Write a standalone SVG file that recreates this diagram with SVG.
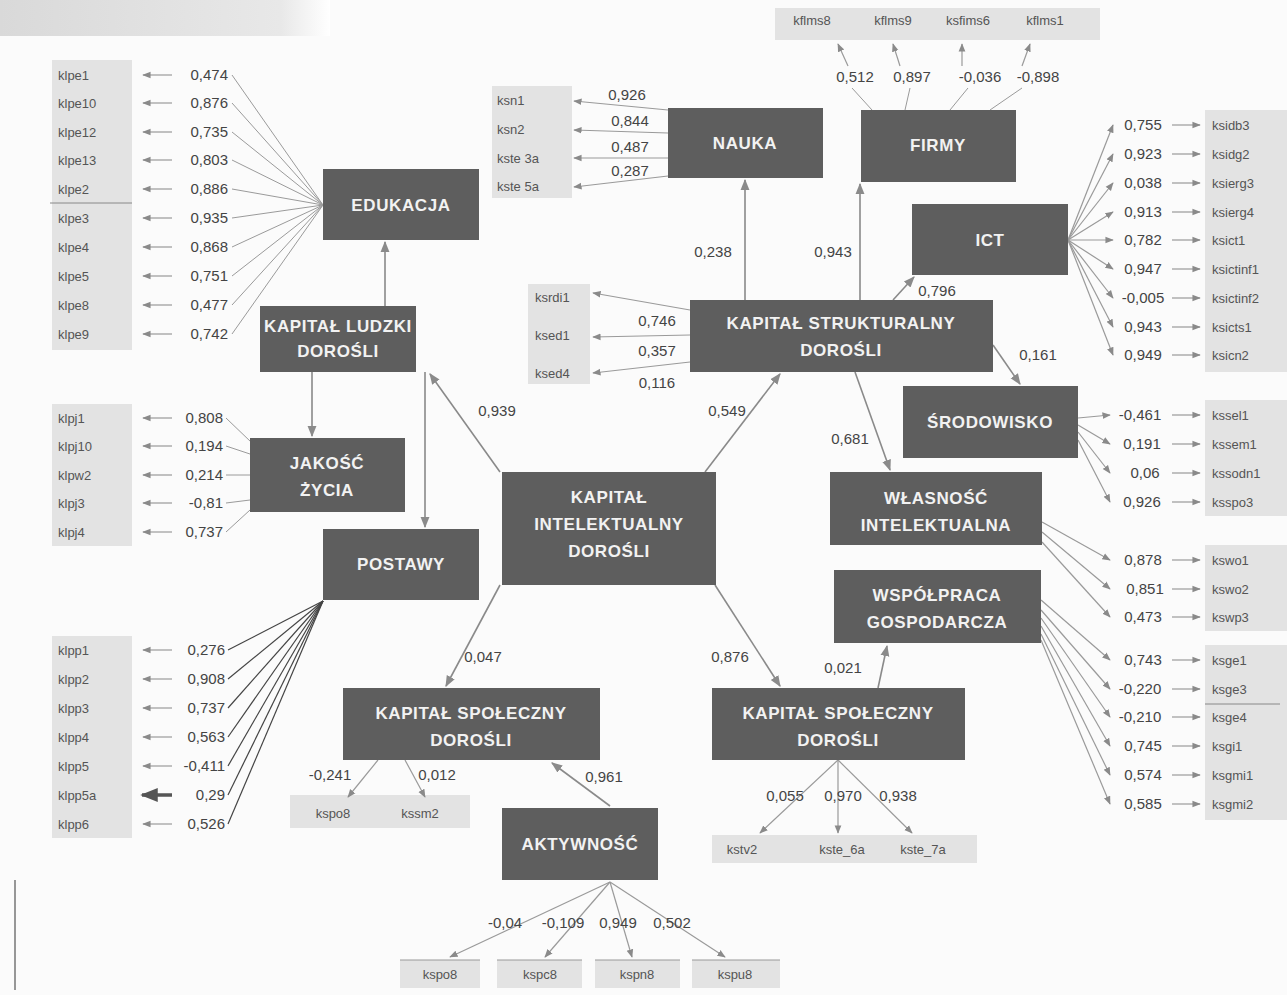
<svg xmlns="http://www.w3.org/2000/svg" width="1287" height="995" viewBox="0 0 1287 995">
<defs>
<marker id="ah" viewBox="0 0 10 10" refX="9" refY="5" markerWidth="7" markerHeight="7" orient="auto-start-reverse"><path d="M0,1 L10,5 L0,9 z" fill="#8a8a8a"/></marker>
<marker id="ahd" viewBox="0 0 10 10" refX="9" refY="5" markerWidth="5" markerHeight="5" orient="auto-start-reverse"><path d="M0,1 L10,5 L0,9 z" fill="#555"/></marker>
<linearGradient id="hdr" x1="0" x2="1" y1="0" y2="0"><stop offset="0" stop-color="#d9d9d9"/><stop offset="0.85" stop-color="#e8e8e8"/><stop offset="1" stop-color="#ffffff"/></linearGradient>
<style>
.n{fill:#5e5e5e}
.nt{fill:#f2f2f2;font-family:"Liberation Sans",Arial,sans-serif;font-weight:bold;font-size:17px;text-anchor:middle;letter-spacing:0.6px}
.ib{fill:#e3e3e3}
.lb{fill:#555;font-family:"Liberation Sans",Arial,sans-serif;font-size:13px}
.v{fill:#444;font-family:"Liberation Sans",Arial,sans-serif;font-size:15px}
.vm{text-anchor:middle}
.ve{text-anchor:end}
.c{stroke:#9a9a9a;stroke-width:1;fill:none}
.ca{stroke:#9a9a9a;stroke-width:1.2;fill:none;marker-end:url(#ah)}
.cd{stroke:#444;stroke-width:1.2;fill:none}
.s{stroke:#8a8a8a;stroke-width:1.6;fill:none;marker-end:url(#ah)}
</style>
</defs>
<rect width="1287" height="995" fill="#fbfbfb"/>
<rect x="0" y="0" width="330" height="36" fill="url(#hdr)"/>
<line x1="15" y1="880" x2="15" y2="990" stroke="#555" stroke-width="1.2"/>

<!-- indicator boxes -->
<g id="indicators">
<rect class="ib" x="52" y="60" width="80" height="290"/>
<line x1="50" y1="203" x2="132" y2="203" stroke="#888"/>
<rect class="ib" x="52" y="404" width="80" height="142"/>
<rect class="ib" x="52" y="636" width="80" height="202"/>
<rect class="ib" x="492" y="86" width="80" height="112"/>
<rect class="ib" x="775" y="8" width="325" height="32"/>
<rect class="ib" x="1205" y="110" width="82" height="262"/>
<rect class="ib" x="1205" y="400" width="82" height="116"/>
<rect class="ib" x="1205" y="545" width="82" height="86"/>
<rect class="ib" x="1205" y="645" width="82" height="175"/>
<line x1="1205" y1="704" x2="1280" y2="704" stroke="#888"/>
<rect class="ib" x="528" y="284" width="62" height="100"/>
<rect class="ib" x="290" y="795" width="180" height="33"/>
<rect class="ib" x="400" y="960" width="80" height="28"/>
<rect class="ib" x="497" y="960" width="85" height="28"/>
<rect class="ib" x="595" y="960" width="85" height="28"/>
<rect class="ib" x="692" y="960" width="88" height="28"/>
<line x1="400" y1="960" x2="480" y2="960" stroke="#999"/>
<line x1="497" y1="960" x2="582" y2="960" stroke="#999"/>
<line x1="595" y1="960" x2="680" y2="960" stroke="#999"/>
<line x1="692" y1="960" x2="780" y2="960" stroke="#999"/>
<rect class="ib" x="712" y="835" width="265" height="28"/>

<g class="lb">
<text x="58" y="80">klpe1</text><text x="58" y="108">klpe10</text><text x="58" y="137">klpe12</text><text x="58" y="165">klpe13</text><text x="58" y="194">klpe2</text><text x="58" y="223">klpe3</text><text x="58" y="252">klpe4</text><text x="58" y="281">klpe5</text><text x="58" y="310">klpe8</text><text x="58" y="339">klpe9</text>
<text x="58" y="423">klpj1</text><text x="58" y="451">klpj10</text><text x="58" y="480">klpw2</text><text x="58" y="508">klpj3</text><text x="58" y="537">klpj4</text>
<text x="58" y="655">klpp1</text><text x="58" y="684">klpp2</text><text x="58" y="713">klpp3</text><text x="58" y="742">klpp4</text><text x="58" y="771">klpp5</text><text x="58" y="800">klpp5a</text><text x="58" y="829">klpp6</text>
<text x="497" y="105">ksn1</text><text x="497" y="134">ksn2</text><text x="497" y="163">kste 3a</text><text x="497" y="191">kste 5a</text>
<text x="812" y="25" text-anchor="middle">kflms8</text><text x="893" y="25" text-anchor="middle">kflms9</text><text x="968" y="25" text-anchor="middle">ksfims6</text><text x="1045" y="25" text-anchor="middle">kflms1</text>
<text x="1212" y="130">ksidb3</text><text x="1212" y="159">ksidg2</text><text x="1212" y="188">ksierg3</text><text x="1212" y="217">ksierg4</text><text x="1212" y="245">ksict1</text><text x="1212" y="274">ksictinf1</text><text x="1212" y="303">ksictinf2</text><text x="1212" y="332">ksicts1</text><text x="1212" y="360">ksicn2</text>
<text x="1212" y="420">kssel1</text><text x="1212" y="449">kssem1</text><text x="1212" y="478">kssodn1</text><text x="1212" y="507">ksspo3</text>
<text x="1212" y="565">kswo1</text><text x="1212" y="594">kswo2</text><text x="1212" y="622">kswp3</text>
<text x="1212" y="665">ksge1</text><text x="1212" y="694">ksge3</text><text x="1212" y="722">ksge4</text><text x="1212" y="751">ksgi1</text><text x="1212" y="780">ksgmi1</text><text x="1212" y="809">ksgmi2</text>
<text x="535" y="302">ksrdi1</text><text x="535" y="340">ksed1</text><text x="535" y="378">ksed4</text>
<text x="333" y="818" text-anchor="middle">kspo8</text><text x="420" y="818" text-anchor="middle">kssm2</text>
<text x="440" y="979" text-anchor="middle">kspo8</text><text x="540" y="979" text-anchor="middle">kspc8</text><text x="637" y="979" text-anchor="middle">kspn8</text><text x="735" y="979" text-anchor="middle">kspu8</text>
<text x="742" y="854" text-anchor="middle">kstv2</text><text x="842" y="854" text-anchor="middle">kste_6a</text><text x="923" y="854" text-anchor="middle">kste_7a</text>
</g>
</g>

<!-- connectors -->
<g id="connectors">
<!-- EDUKACJA indicators -->
<g class="c">
<line x1="323" y1="205" x2="232" y2="75"/><line x1="323" y1="205" x2="232" y2="103"/><line x1="323" y1="205" x2="232" y2="132"/><line x1="323" y1="205" x2="232" y2="160"/><line x1="323" y1="205" x2="232" y2="189"/><line x1="323" y1="205" x2="232" y2="218"/><line x1="323" y1="205" x2="232" y2="247"/><line x1="323" y1="205" x2="232" y2="276"/><line x1="323" y1="205" x2="232" y2="305"/><line x1="323" y1="205" x2="232" y2="334"/>
</g>
<g class="ca">
<line x1="172" y1="75" x2="143" y2="75"/><line x1="172" y1="103" x2="143" y2="103"/><line x1="172" y1="132" x2="143" y2="132"/><line x1="172" y1="160" x2="143" y2="160"/><line x1="172" y1="189" x2="143" y2="189"/><line x1="172" y1="218" x2="143" y2="218"/><line x1="172" y1="247" x2="143" y2="247"/><line x1="172" y1="276" x2="143" y2="276"/><line x1="172" y1="305" x2="143" y2="305"/><line x1="172" y1="334" x2="143" y2="334"/>
<line x1="172" y1="418" x2="143" y2="418"/><line x1="172" y1="446" x2="143" y2="446"/><line x1="172" y1="475" x2="143" y2="475"/><line x1="172" y1="503" x2="143" y2="503"/><line x1="172" y1="532" x2="143" y2="532"/>
<line x1="172" y1="650" x2="143" y2="650"/><line x1="172" y1="679" x2="143" y2="679"/><line x1="172" y1="708" x2="143" y2="708"/><line x1="172" y1="737" x2="143" y2="737"/><line x1="172" y1="766" x2="143" y2="766"/><line x1="172" y1="824" x2="143" y2="824"/>
</g>
<line x1="172" y1="795" x2="142" y2="795" stroke="#555" stroke-width="3.5" marker-end="url(#ahd)"/>
<!-- JAKOSC -->
<g class="c">
<line x1="226" y1="418" x2="251" y2="442"/><line x1="226" y1="446" x2="250" y2="454"/><line x1="226" y1="475" x2="250" y2="475"/><line x1="226" y1="503" x2="250" y2="500"/><line x1="226" y1="532" x2="250" y2="510"/>
</g>
<!-- POSTAWY -->
<g class="cd">
<line x1="228" y1="650" x2="323" y2="601"/><line x1="228" y1="679" x2="323" y2="601"/><line x1="228" y1="708" x2="323" y2="601"/><line x1="228" y1="737" x2="323" y2="601"/><line x1="228" y1="766" x2="323" y2="601"/><line x1="228" y1="795" x2="323" y2="601"/><line x1="228" y1="824" x2="323" y2="601"/>
</g>
<!-- NAUKA -->
<g class="ca">
<line x1="668" y1="110" x2="574" y2="101"/><line x1="668" y1="133" x2="574" y2="130"/><line x1="668" y1="158" x2="574" y2="158"/><line x1="668" y1="176" x2="574" y2="187"/>
</g>
<!-- FIRMY -->
<g class="c">
<line x1="872" y1="110" x2="852" y2="88"/><line x1="905" y1="110" x2="910" y2="88"/><line x1="950" y1="110" x2="968" y2="88"/><line x1="990" y1="110" x2="1022" y2="88"/>
</g>
<g class="ca">
<line x1="848" y1="66" x2="838" y2="44"/><line x1="900" y1="66" x2="893" y2="44"/><line x1="962" y1="66" x2="962" y2="44"/><line x1="1022" y1="66" x2="1030" y2="44"/>
</g>
<!-- ICT -->
<g class="ca">
<line x1="1068" y1="240" x2="1113" y2="125"/><line x1="1068" y1="240" x2="1113" y2="154"/><line x1="1068" y1="240" x2="1113" y2="183"/><line x1="1068" y1="240" x2="1113" y2="212"/><line x1="1068" y1="240" x2="1113" y2="240"/><line x1="1068" y1="240" x2="1113" y2="269"/><line x1="1068" y1="240" x2="1113" y2="298"/><line x1="1068" y1="240" x2="1113" y2="327"/><line x1="1068" y1="240" x2="1113" y2="355"/>
<line x1="1172" y1="125" x2="1200" y2="125"/><line x1="1172" y1="154" x2="1200" y2="154"/><line x1="1172" y1="183" x2="1200" y2="183"/><line x1="1172" y1="212" x2="1200" y2="212"/><line x1="1172" y1="240" x2="1200" y2="240"/><line x1="1172" y1="269" x2="1200" y2="269"/><line x1="1172" y1="298" x2="1200" y2="298"/><line x1="1172" y1="327" x2="1200" y2="327"/><line x1="1172" y1="355" x2="1200" y2="355"/>
<!-- SRODOWISKO -->
<line x1="1078" y1="418" x2="1110" y2="415"/><line x1="1078" y1="425" x2="1110" y2="444"/><line x1="1078" y1="432" x2="1110" y2="473"/><line x1="1078" y1="440" x2="1110" y2="502"/>
<line x1="1172" y1="415" x2="1200" y2="415"/><line x1="1172" y1="444" x2="1200" y2="444"/><line x1="1172" y1="473" x2="1200" y2="473"/><line x1="1172" y1="502" x2="1200" y2="502"/>
<!-- WLASNOSC -->
<line x1="1042" y1="522" x2="1110" y2="560"/><line x1="1042" y1="532" x2="1110" y2="589"/><line x1="1042" y1="542" x2="1110" y2="617"/>
<line x1="1172" y1="560" x2="1200" y2="560"/><line x1="1172" y1="589" x2="1200" y2="589"/><line x1="1172" y1="617" x2="1200" y2="617"/>
<!-- WSPOLPRACA -->
<line x1="1041" y1="600" x2="1110" y2="660"/><line x1="1041" y1="610" x2="1110" y2="689"/><line x1="1041" y1="618" x2="1110" y2="717"/><line x1="1041" y1="626" x2="1110" y2="746"/><line x1="1041" y1="634" x2="1110" y2="775"/><line x1="1041" y1="640" x2="1110" y2="804"/>
<line x1="1172" y1="660" x2="1200" y2="660"/><line x1="1172" y1="689" x2="1200" y2="689"/><line x1="1172" y1="717" x2="1200" y2="717"/><line x1="1172" y1="746" x2="1200" y2="746"/><line x1="1172" y1="775" x2="1200" y2="775"/><line x1="1172" y1="804" x2="1200" y2="804"/>
<!-- KSTR left -->
<line x1="690" y1="310" x2="593" y2="293"/><line x1="690" y1="335" x2="593" y2="337"/><line x1="690" y1="362" x2="593" y2="373"/>
<!-- KS left indicators -->
<line x1="378" y1="760" x2="348" y2="797"/><line x1="405" y1="760" x2="425" y2="797"/>
<!-- AKTYWNOSC indicators -->
<line x1="610" y1="882" x2="450" y2="957"/><line x1="610" y1="882" x2="545" y2="957"/><line x1="610" y1="882" x2="632" y2="957"/><line x1="610" y1="882" x2="725" y2="957"/>
<!-- KS right indicators -->
<line x1="838" y1="760" x2="760" y2="833"/><line x1="838" y1="760" x2="838" y2="833"/><line x1="838" y1="760" x2="912" y2="833"/>
</g>
<!-- structural paths -->
<g class="s">
<line x1="500" y1="472" x2="430" y2="374"/>
<line x1="705" y1="472" x2="780" y2="374"/>
<line x1="500" y1="585" x2="446" y2="686"/>
<line x1="715" y1="585" x2="780" y2="686"/>
<line x1="385" y1="306" x2="385" y2="242"/>
<line x1="312" y1="372" x2="312" y2="436"/>
<line x1="425" y1="372" x2="425" y2="527"/>
<line x1="745" y1="300" x2="745" y2="180"/>
<line x1="860" y1="300" x2="860" y2="184"/>
<line x1="893" y1="300" x2="914" y2="277"/>
<line x1="993" y1="345" x2="1020" y2="384"/>
<line x1="855" y1="372" x2="890" y2="470"/>
<line x1="610" y1="806" x2="552" y2="763"/>
<line x1="878" y1="688" x2="887" y2="646"/>
</g>
</g>

<!-- values -->
<g id="values" class="v">
<g class="ve">
<text x="228" y="80">0,474</text><text x="228" y="108">0,876</text><text x="228" y="137">0,735</text><text x="228" y="165">0,803</text><text x="228" y="194">0,886</text><text x="228" y="223">0,935</text><text x="228" y="252">0,868</text><text x="228" y="281">0,751</text><text x="228" y="310">0,477</text><text x="228" y="339">0,742</text>
<text x="223" y="423">0,808</text><text x="223" y="451">0,194</text><text x="223" y="480">0,214</text><text x="223" y="508">-0,81</text><text x="223" y="537">0,737</text>
<text x="225" y="655">0,276</text><text x="225" y="684">0,908</text><text x="225" y="713">0,737</text><text x="225" y="742">0,563</text><text x="225" y="771">-0,411</text><text x="225" y="800">0,29</text><text x="225" y="829">0,526</text>
</g>
<g class="vm">
<text x="627" y="100">0,926</text><text x="630" y="126">0,844</text><text x="630" y="152">0,487</text><text x="630" y="176">0,287</text>
<text x="855" y="82">0,512</text><text x="912" y="82">0,897</text><text x="980" y="82">-0,036</text><text x="1038" y="82">-0,898</text>
<text x="1143" y="130">0,755</text><text x="1143" y="159">0,923</text><text x="1143" y="188">0,038</text><text x="1143" y="217">0,913</text><text x="1143" y="245">0,782</text><text x="1143" y="274">0,947</text><text x="1143" y="303">-0,005</text><text x="1143" y="332">0,943</text><text x="1143" y="360">0,949</text>
<text x="1140" y="420">-0,461</text><text x="1142" y="449">0,191</text><text x="1145" y="478">0,06</text><text x="1142" y="507">0,926</text>
<text x="1143" y="565">0,878</text><text x="1145" y="594">0,851</text><text x="1143" y="622">0,473</text>
<text x="1143" y="665">0,743</text><text x="1140" y="694">-0,220</text><text x="1140" y="722">-0,210</text><text x="1143" y="751">0,745</text><text x="1143" y="780">0,574</text><text x="1143" y="809">0,585</text>
<text x="657" y="326">0,746</text><text x="657" y="356">0,357</text><text x="657" y="388">0,116</text>
<text x="497" y="416">0,939</text><text x="727" y="416">0,549</text>
<text x="483" y="662">0,047</text><text x="730" y="662">0,876</text>
<text x="713" y="257">0,238</text><text x="833" y="257">0,943</text>
<text x="937" y="296">0,796</text><text x="1038" y="360">0,161</text><text x="850" y="444">0,681</text>
<text x="330" y="780">-0,241</text><text x="437" y="780">0,012</text><text x="604" y="782">0,961</text>
<text x="843" y="673">0,021</text>
<text x="505" y="928">-0,04</text><text x="563" y="928">-0,109</text><text x="618" y="928">0,949</text><text x="672" y="928">0,502</text>
<text x="785" y="801">0,055</text><text x="843" y="801">0,970</text><text x="898" y="801">0,938</text>
</g>
</g>

<!-- nodes -->
<g id="edukacja"><rect class="n" x="323" y="169" width="156" height="71"/><text class="nt" x="401" y="211">EDUKACJA</text></g>
<g id="nauka"><rect class="n" x="668" y="108" width="155" height="70"/><text class="nt" x="745" y="149">NAUKA</text></g>
<g id="firmy"><rect class="n" x="861" y="110" width="155" height="72"/><text class="nt" x="938" y="151">FIRMY</text></g>
<g id="ict"><rect class="n" x="912" y="204" width="156" height="71"/><text class="nt" x="990" y="246">ICT</text></g>
<g id="kapital-ludzki"><rect class="n" x="260" y="306" width="156" height="66"/><text class="nt" x="338" y="332">KAPITAŁ LUDZKI</text><text class="nt" x="338" y="357">DOROŚLI</text></g>
<g id="kapital-strukturalny"><rect class="n" x="690" y="300" width="303" height="72"/><text class="nt" x="841" y="329">KAPITAŁ STRUKTURALNY</text><text class="nt" x="841" y="356">DOROŚLI</text></g>
<g id="srodowisko"><rect class="n" x="903" y="386" width="175" height="72"/><text class="nt" x="990" y="428">ŚRODOWISKO</text></g>
<g id="jakosc-zycia"><rect class="n" x="250" y="438" width="155" height="74"/><text class="nt" x="327" y="469">JAKOŚĆ</text><text class="nt" x="327" y="496">ŻYCIA</text></g>
<g id="wlasnosc"><rect class="n" x="830" y="472" width="212" height="73"/><text class="nt" x="936" y="504">WŁASNOŚĆ</text><text class="nt" x="936" y="531">INTELEKTUALNA</text></g>
<g id="kapital-intelektualny"><rect class="n" x="502" y="472" width="214" height="113"/><text class="nt" x="609" y="503">KAPITAŁ</text><text class="nt" x="609" y="530">INTELEKTUALNY</text><text class="nt" x="609" y="557">DOROŚLI</text></g>
<g id="postawy"><rect class="n" x="323" y="529" width="156" height="71"/><text class="nt" x="401" y="570">POSTAWY</text></g>
<g id="wspolpraca"><rect class="n" x="834" y="570" width="207" height="73"/><text class="nt" x="937" y="601">WSPÓŁPRACA</text><text class="nt" x="937" y="628">GOSPODARCZA</text></g>
<g id="kapital-spoleczny-1"><rect class="n" x="343" y="688" width="257" height="72"/><text class="nt" x="471" y="719">KAPITAŁ SPOŁECZNY</text><text class="nt" x="471" y="746">DOROŚLI</text></g>
<g id="kapital-spoleczny-2"><rect class="n" x="712" y="688" width="253" height="72"/><text class="nt" x="838" y="719">KAPITAŁ SPOŁECZNY</text><text class="nt" x="838" y="746">DOROŚLI</text></g>
<g id="aktywnosc"><rect class="n" x="502" y="808" width="156" height="72"/><text class="nt" x="580" y="850">AKTYWNOŚĆ</text></g>
</svg>
